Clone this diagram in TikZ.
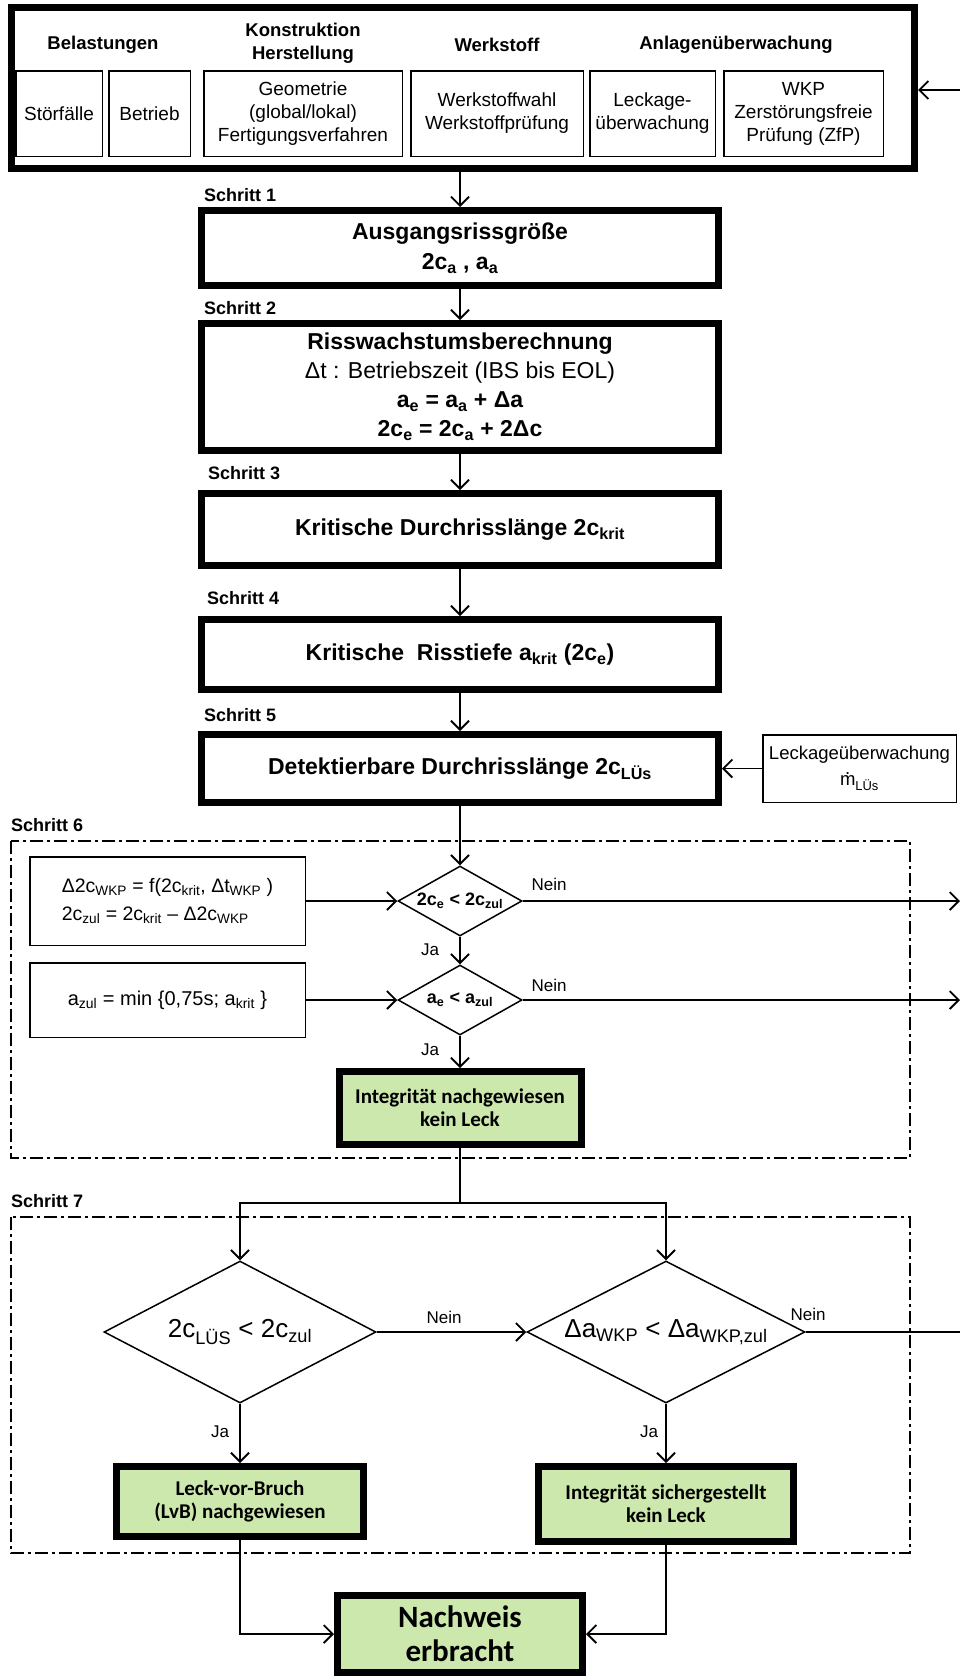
\documentclass[tikz,border=0pt]{standalone}
\usepackage{fontspec}
\setmainfont{Liberation Sans}
\newfontfamily\grfont{Carlito}
\usetikzlibrary{arrows.meta,shapes.geometric}
\definecolor{gfill}{RGB}{204,232,172}
\newcommand{\fs}[2]{\fontsize{#1}{#2}\selectfont}
\newcommand{\sbs}[1]{\textsubscript{#1}}
\newcommand{\mdot}{\ooalign{m\cr\hfil\raisebox{0.62em}{.}\hfil\cr}}
\begin{document}
\begin{tikzpicture}[x=1pt,y=-1pt,
  thickbox/.style={draw, line width=7pt, inner sep=0pt, align=center, minimum width=517pt, font=\bfseries\fs{23}{30}},
  thinbox/.style={draw, line width=1.5pt, inner sep=0pt, align=center, font=\fs{19}{23}},
  hdr/.style={inner sep=0pt, align=center, font=\bfseries\fs{18.5}{23}},
  steplbl/.style={anchor=west, inner sep=0pt, font=\bfseries\fs{18}{20}},
  conn/.style={line width=1.8pt, -{Straight Barb[length=9pt,width=18pt]}},
  plainln/.style={line width=1.8pt},
  dd/.style={line width=2pt, dash pattern=on 13pt off 4pt on 3pt off 4pt},
  grn/.style={draw, fill=gfill, line width=7pt, inner sep=0pt, align=center, font=\grfont\bfseries\fs{21}{23}},
  lbl/.style={inner sep=0pt, font=\fs{17}{20}},
  dia/.style={draw, shape=diamond, line width=1.5pt, inner sep=0pt}
]
\useasboundingbox[fill=white] (0,0) rectangle (960,1676);

% top block
\node[draw, line width=7pt, inner sep=0pt, minimum width=903pt, minimum height=161pt] (top) at (463,88) {};
\node[hdr] (hBel) at (103,45) {Belastungen};
\node[hdr] (hKon) at (303,43) {Konstruktion\\Herstellung};
\node[hdr] (hWer) at (497,45) {Werkstoff};
\node[hdr] (hAnl) at (736,45) {Anlagenüberwachung};
\node[thinbox, minimum width=86.5pt, minimum height=85.5pt] (stoer) at (59,113.5) {Störfälle};
\node[thinbox, minimum width=81.5pt, minimum height=85.5pt] (betr) at (149.5,113.5) {Betrieb};
\node[thinbox, minimum width=198.5pt, minimum height=85.5pt] (geo) at (303,113.5) {Geometrie\\(global/lokal)\\Fertigungsverfahren};
\node[thinbox, minimum width=172.5pt, minimum height=85.5pt] (werk) at (497,113.5) {Werkstoffwahl\\Werkstoffprüfung};
\node[thinbox, minimum width=125.5pt, minimum height=85.5pt] (leck) at (652.5,113.5) {Leckage-\\überwachung};
\node[thinbox, minimum width=159.5pt, minimum height=85.5pt] (wkp) at (803.5,113.5) {WKP\\Zerstörungsfreie\\Prüfung (ZfP)};
\coordinate (inR) at (960,90);
\draw[conn] (inR) -- (inR -| top.east);

% steps 1-5
\node[steplbl] (s1) at (204,195) {Schritt 1};
\node[thickbox, minimum height=75pt] (b1) at (460,248) {Ausgangsrissgröße\\2c\sbs{a} , a\sbs{a}};
\node[steplbl] (s2) at (204,308) {Schritt 2};
\node[thickbox, minimum height=127pt, font=\bfseries\fs{23}{29}] (b2) at (460,387) {Risswachstumsberechnung\\{\mdseries Δt : Betriebszeit (IBS bis EOL)}\\a\sbs{e} = a\sbs{a} + Δa\\2c\sbs{e} = 2c\sbs{a} + 2Δc};
\node[steplbl] (s3) at (208,473) {Schritt 3};
\node[thickbox, minimum height=72pt] (b3) at (460,529.5) {Kritische Durchrisslänge 2c\sbs{krit}};
\node[steplbl] (s4) at (207,598) {Schritt 4};
\node[thickbox, minimum height=70pt] (b4) at (460,654.5) {Kritische\ \ Risstiefe a\sbs{krit} (2c\sbs{e})};
\node[steplbl] (s5) at (204,715) {Schritt 5};
\node[thickbox, minimum height=68pt] (b5) at (460,768.5) {Detektierbare Durchrisslänge 2c\sbs{LÜs}};
\node[thinbox, minimum width=193.5pt, minimum height=67.5pt, font=\fs{18.5}{26}] (side) at (859.5,768.5) {Leckageüberwachung\\\mdot\sbs{LÜs}};

\draw[conn] (top.south -| b1.north) -- (b1.north);
\draw[conn] (b1) -- (b2);
\draw[conn] (b2) -- (b3);
\draw[conn] (b3) -- (b4);
\draw[conn] (b4) -- (b5);
\draw[conn] (side) -- (b5);

% step 6
\node[steplbl] (s6) at (11,825) {Schritt 6};
\draw[dd] (11,841) rectangle (910,1158);
\node[thinbox, align=left, minimum width=275.5pt, minimum height=88.5pt, font=\fs{19.5}{28}] (l1) at (167.5,901) {Δ2c\sbs{WKP} = f(2c\sbs{krit}, Δt\sbs{WKP} )\\2c\sbs{zul} = 2c\sbs{krit} – Δ2c\sbs{WKP}};
\node[thinbox, minimum width=275.5pt, minimum height=74.5pt, font=\fs{20}{22}] (l2) at (167.5,1000) {a\sbs{zul} = min \{0,75s; a\sbs{krit} \}};
\node[dia, aspect=1.77, minimum width=124pt, minimum height=70pt, font=\bfseries\fs{18}{20}] (d1) at (460,901) {2c\sbs{e} < 2c\sbs{zul}};
\node[dia, aspect=1.77, minimum width=124pt, minimum height=70pt, font=\bfseries\fs{18}{20}] (d2) at (460,1000) {a\sbs{e} < a\sbs{zul}};
\node[grn, minimum width=242pt, minimum height=73pt] (g1) at (460,1108) {Integrität nachgewiesen\\kein Leck};
\coordinate (r1) at (960,901);
\coordinate (r2) at (960,1000);
\draw[conn] (b5) -- (d1);
\draw[conn] (l1) -- (d1);
\draw[conn] (l2) -- (d2);
\draw[conn] (d1) -- (r1);
\draw[conn] (d2) -- (r2);
\draw[conn] (d1) -- (d2);
\draw[conn] (d2) -- (g1);
\node[lbl] (n1) at (549,884) {Nein};
\node[lbl] (n2) at (549,985) {Nein};
\node[lbl] (j1) at (430,950) {Ja};
\node[lbl] (j2) at (430,1050) {Ja};

% step 7
\node[steplbl] (s7) at (11,1201) {Schritt 7};
\draw[dd] (11,1217) rectangle (910,1553);
\node[dia, aspect=1.92, minimum width=272pt, minimum height=142pt, font=\fs{26}{28}] (d3) at (240,1332) {2c\sbs{LÜS} < 2c\sbs{zul}};
\node[dia, aspect=1.97, minimum width=278pt, minimum height=142pt, font=\fs{26}{28}] (d4) at (666,1332) {Δa\sbs{WKP} < Δa\sbs{WKP,zul}};
\coordinate (split) at (460,1203);
\coordinate (r3) at (960,1332);
\draw[plainln] (g1) -- (split);
\draw[conn] (split) -| (d3.north);
\draw[conn] (split) -| (d4.north);
\draw[conn] (d3) -- (d4);
\draw[plainln] (d4.east) -- (r3);
\node[lbl] (n3) at (444,1317) {Nein};
\node[lbl] (n4) at (808,1314) {Nein};
\node[grn, minimum width=247pt, minimum height=70pt] (g2) at (240,1501.5) {Leck-vor-Bruch\\(LvB) nachgewiesen};
\node[grn, minimum width=255pt, minimum height=75pt] (g3) at (666,1504) {Integrität sichergestellt\\kein Leck};
\draw[conn] (d3) -- (g2);
\draw[conn] (d4) -- (g3);
\node[lbl] (j3) at (220,1432) {Ja};
\node[lbl] (j4) at (649,1432) {Ja};

% final
\node[grn, minimum width=245pt, minimum height=77pt, font=\grfont\bfseries\fs{31}{34}] (nach) at (460,1634) {Nachweis\\erbracht};
\draw[conn] (g2.south) |- (nach.west);
\draw[conn] (g3.south) |- (nach.east);
\end{tikzpicture}
\end{document}
